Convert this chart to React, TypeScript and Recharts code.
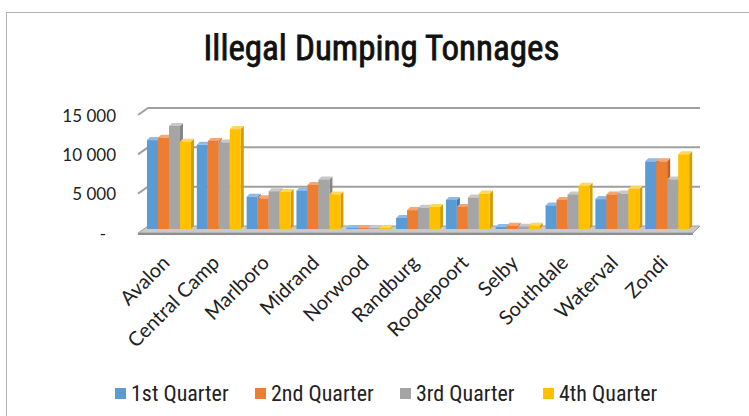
import { BarChart, Bar, XAxis, YAxis, CartesianGrid, Legend } from 'recharts';

const categories = ['Avalon', 'Central Camp', 'Marlboro', 'Midrand', 'Norwood', 'Randburg', 'Roodepoort', 'Selby', 'Southdale', 'Waterval', 'Zondi'];
const q1 = [11300, 10700, 4100, 4900, 120, 1400, 3700, 250, 3000, 3800, 8600];
const q2 = [11600, 11200, 3900, 5600, 120, 2400, 2800, 400, 3700, 4400, 8600];
const q3 = [13100, 11000, 4800, 6300, 120, 2700, 4000, 300, 4400, 4500, 6300];
const q4 = [11100, 12700, 4700, 4400, 120, 2800, 4500, 400, 5500, 5100, 9500];
const seriesNames = ['1st Quarter', '2nd Quarter', '3rd Quarter', '4th Quarter'];
const yTicks = [0, 5000, 10000, 15000];

const colors = ['#5b9bd5', '#ed7d31', '#a5a5a5', '#ffc000'];
const shades: Record<string, [string, string]> = {
  '#5b9bd5': ['#8fbbe6', '#3f7cb5'],
  '#ed7d31': ['#f5a673', '#c4601d'],
  '#a5a5a5': ['#c8c8c8', '#858585'],
  '#ffc000': ['#ffd75c', '#d19d00'],
};

const data = categories.map((name, i) => ({ name, q1: q1[i], q2: q2[i], q3: q3[i], q4: q4[i] }));

const DX = 3;
const DY = 3;
const LABEL_FONT = "Lato, 'Open Sans', sans-serif";
const NARROW_FONT = "'Liberation Sans Narrow', 'Roboto Condensed', Roboto, sans-serif";

function Bar3D(props: any) {
  const { x, y, width, height, fill } = props;
  if (width == null || height == null) return null;
  const h = Math.max(height, 0.8);
  const top = y + height - h;
  const [light, dark] = shades[fill] ?? [fill, fill];
  return (
    <g>
      <polygon
        points={`${x + width},${top} ${x + width + DX},${top - DY} ${x + width + DX},${top + h - DY} ${x + width},${top + h}`}
        fill={dark}
      />
      <polygon points={`${x},${top} ${x + DX},${top - DY} ${x + width + DX},${top - DY} ${x + width},${top}`} fill={light} />
      <rect x={x} y={top} width={width} height={h} fill={fill} />
    </g>
  );
}

function GridLine(props: any) {
  const { x1, x2, y1 } = props;
  if (y1 > 220) {
    // floor slab
    return (
      <g key={props.key}>
        <polygon
          points={`${x1 - 6},${y1 + 4} ${x1 + 4},${y1 - 3} ${x2 + 8},${y1 - 3} ${x2 + 1},${y1 + 4}`}
          fill="#c9c9c9"
          stroke="#a0a0a0"
          strokeWidth={1}
        />
        <line x1={x1 - 6} y1={y1 + 5} x2={x2 + 1} y2={y1 + 5} stroke="#8c8c8c" strokeWidth={2} />
      </g>
    );
  }
  return (
    <path
      key={props.key}
      d={`M${x1 - 6},${y1 + 4} L${x1 + 4},${y1 - 3} L${x2 + 8},${y1 - 3}`}
      fill="none"
      stroke="#a0a0a0"
      strokeWidth={2}
    />
  );
}

function YTick(props: any) {
  const { y, payload } = props;
  const v = payload.value as number;
  const label = v === 0 ? '-' : v.toLocaleString('en-US').replace(/,/g, ' ');
  return (
    <text x={v === 0 ? 106 : 116} y={y + 4} textAnchor="end" dominantBaseline="central" fontSize={17} fontFamily={LABEL_FONT} fill="#222">
      {label}
    </text>
  );
}

function XTick(props: any) {
  const { x, y, payload } = props;
  const tx = x + 2;
  const ty = y + 27;
  return (
    <text x={tx} y={ty} textAnchor="end" transform={`rotate(-45, ${tx}, ${ty})`} fontSize={20} fontFamily={LABEL_FONT} fill="#222">
      {payload.value}
    </text>
  );
}

function LegendContent(props: any) {
  const { payload } = props;
  const lefts = [115, 255, 400, 543];
  return (
    <div style={{ position: 'relative', height: 24 }}>
      {(payload ?? []).map((p: any, i: number) => (
        <div key={p.value} style={{ position: 'absolute', left: lefts[i], top: 0, display: 'flex', alignItems: 'center', height: 24 }}>
          <span style={{ display: 'inline-block', width: 11, height: 11, background: p.color, marginRight: 5 }} />
          <span style={{ fontSize: 22, fontFamily: NARROW_FONT, color: '#222' }}>{p.value}</span>
        </div>
      ))}
    </div>
  );
}

export default function App() {
  return (
    <div style={{ position: 'absolute', left: 0, top: 0, width: 749, height: 416, background: '#fff', overflow: 'hidden' }}>
      <div
        style={{
          position: 'absolute',
          left: 6,
          top: 12,
          width: 780,
          height: 440,
          border: '1.5px solid #b4b4b4',
          boxSizing: 'border-box',
        }}
      />
      <div
        style={{
          position: 'absolute',
          left: 0,
          width: 749,
          top: 28,
          textAlign: 'center',
          fontFamily: NARROW_FONT,
          fontSize: 35,
          color: '#111',
          WebkitTextStroke: '0.8px #111',
          paddingLeft: 14,
          boxSizing: 'border-box',
        }}
      >
        Illegal Dumping Tonnages
      </div>
      <BarChart
        width={749}
        height={416}
        data={data}
        margin={{ top: 111, right: 57, left: 0, bottom: 69 }}
        barCategoryGap="6%"
        barGap={0}
        style={{ position: 'absolute', left: 0, top: 0 }}
      >
        <CartesianGrid vertical={false} horizontal={GridLine as any} />
        <XAxis dataKey="name" interval={0} axisLine={false} tickLine={false} tick={<XTick />} height={94} />
        <YAxis domain={[0, 15000]} ticks={yTicks} axisLine={false} tickLine={false} width={144} tick={<YTick />} />
        <Legend
          verticalAlign="bottom"
          content={<LegendContent />}
          wrapperStyle={{ top: 381, left: 0, bottom: 'auto', width: 749, height: 24 }}
        />
        <Bar dataKey="q1" name={seriesNames[0]} fill={colors[0]} shape={Bar3D} isAnimationActive={false} />
        <Bar dataKey="q2" name={seriesNames[1]} fill={colors[1]} shape={Bar3D} isAnimationActive={false} />
        <Bar dataKey="q3" name={seriesNames[2]} fill={colors[2]} shape={Bar3D} isAnimationActive={false} />
        <Bar dataKey="q4" name={seriesNames[3]} fill={colors[3]} shape={Bar3D} isAnimationActive={false} />
      </BarChart>
    </div>
  );
}
